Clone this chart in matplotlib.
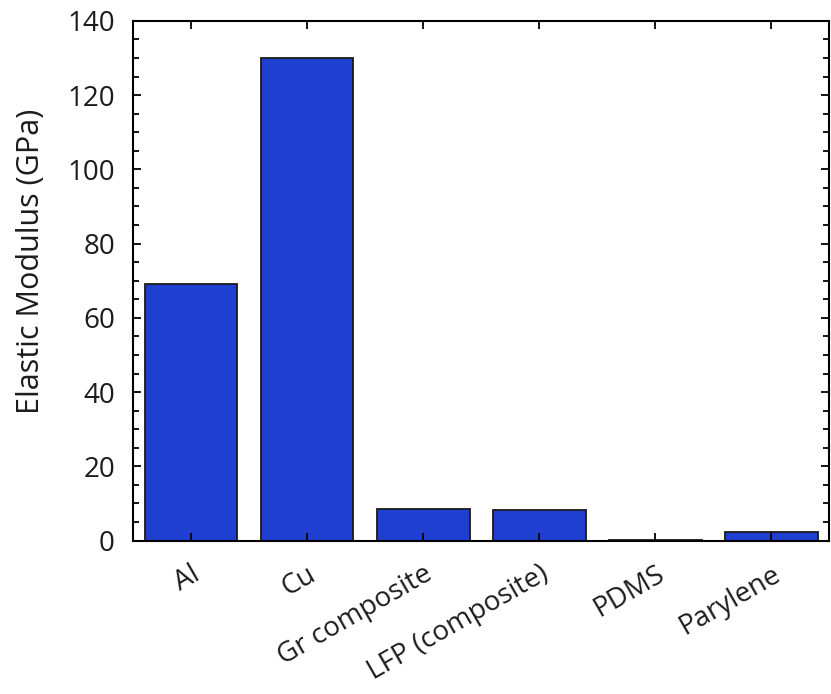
import matplotlib
matplotlib.use('Agg')
import matplotlib.pyplot as plt
from matplotlib.ticker import MultipleLocator

# Elastic modulus of cell components
materials = ['Al', 'Cu', 'Gr composite', 'LFP (composite)', 'PDMS', 'Parylene']
modulus_gpa = [69, 130, 8.6, 8.3, 0.05, 2.3]

plt.rcParams['font.family'] = ['Open Sans', 'DejaVu Sans']
text_color = '#1c1c1c'

fig = plt.figure(figsize=(8.31, 6.94), dpi=100)
ax = fig.add_axes([0.160, 0.221, 0.838, 0.749])

x = range(len(materials))
ax.bar(x, modulus_gpa, width=0.8, color='#1e3fd0', edgecolor='#1a1a1a', linewidth=1.3)

ax.set_xlim(-0.5, 5.5)
ax.set_ylim(0, 140)
ax.yaxis.set_major_locator(MultipleLocator(20))
ax.yaxis.set_minor_locator(MultipleLocator(5))
ax.set_xticks(list(x))
ax.set_xticklabels(materials, rotation=30, ha='right', rotation_mode='anchor')

ax.tick_params(axis='both', which='both', direction='in', top=True, right=True, width=1.3)
ax.tick_params(axis='both', which='major', length=6, labelsize=20, labelcolor=text_color)
ax.tick_params(axis='y', which='minor', length=4)
ax.tick_params(axis='y', which='major', pad=13)
ax.tick_params(axis='x', which='major', pad=14)
for s in ax.spines.values():
    s.set_linewidth(1.5)

ax.set_ylabel('Elastic Modulus (GPa)', fontsize=22, color=text_color)
ax.yaxis.set_label_coords(-0.125, 0.537)

fig.savefig('out.png', dpi=100)
